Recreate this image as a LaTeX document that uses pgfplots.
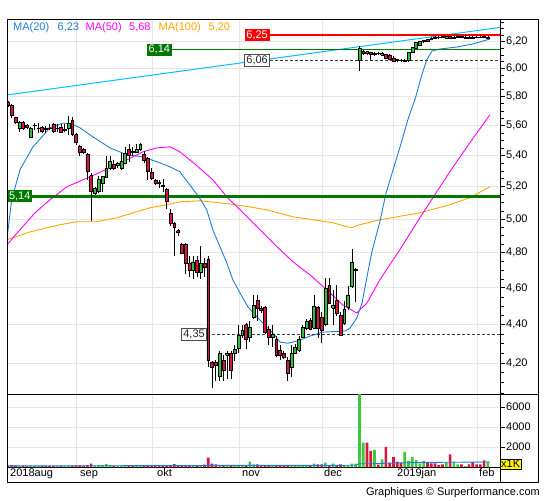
\documentclass[border=0pt]{standalone}
\usepackage{pgfplots}
\pgfplotsset{compat=1.18}
\usepackage{pgfplotstable}
\usepackage{fontspec}
\setmainfont{Liberation Sans}

\definecolor{cgreen}{RGB}{50,190,60}
\definecolor{cred}{RGB}{220,20,60}
\definecolor{vgreen}{RGB}{60,200,60}
\definecolor{vred}{RGB}{220,20,60}
\definecolor{ma20}{RGB}{30,125,220}
\definecolor{ma50}{RGB}{255,0,255}
\definecolor{ma100}{RGB}{255,165,0}
\definecolor{trend}{RGB}{0,190,255}
\definecolor{dgreen}{RGB}{0,120,0}
\definecolor{gridc}{RGB}{230,230,230}

% d = trading day index, O H L C = price, V = volume (units)
\pgfplotstableread{
d O H L C V
0 5.76 5.77 5.73 5.74 150
1 5.74 5.75 5.65 5.67 180
2 5.66 5.66 5.61 5.62 160
3 5.58 5.63 5.56 5.62 120
4 5.62 5.63 5.57 5.58 140
5 5.60 5.61 5.58 5.59 100
6 5.52 5.59 5.52 5.58 130
7 5.60 5.62 5.57 5.605 100
8 5.58 5.62 5.55 5.585 120
9 5.59 5.60 5.55 5.56 110
10 5.58 5.60 5.55 5.575 100
11 5.585 5.61 5.57 5.58 90
12 5.61 5.62 5.55 5.565 120
13 5.58 5.61 5.56 5.585 100
14 5.59 5.61 5.55 5.555 110
15 5.57 5.61 5.56 5.575 90
16 5.58 5.665 5.54 5.615 130
17 5.64 5.66 5.53 5.54 150
18 5.54 5.55 5.47 5.485 160
19 5.46 5.47 5.40 5.42 170
20 5.44 5.45 5.41 5.42 110
21 5.41 5.42 5.24 5.30 200
22 5.27 5.29 4.99 5.17 330
23 5.16 5.20 5.15 5.19 150
24 5.17 5.27 5.16 5.25 180
25 5.225 5.27 5.17 5.265 160
26 5.26 5.40 5.26 5.32 300
27 5.32 5.40 5.31 5.365 200
28 5.345 5.37 5.31 5.32 120
29 5.335 5.36 5.32 5.35 100
30 5.32 5.415 5.31 5.365 150
31 5.35 5.46 5.345 5.415 160
32 5.44 5.475 5.36 5.40 140
33 5.43 5.46 5.40 5.42 110
34 5.42 5.475 5.42 5.44 120
35 5.44 5.48 5.43 5.475 130
36 5.41 5.43 5.355 5.37 150
37 5.38 5.39 5.24 5.30 180
38 5.29 5.32 5.24 5.255 140
39 5.24 5.25 5.21 5.225 110
40 5.23 5.24 5.19 5.22 100
41 5.21 5.25 5.17 5.20 120
42 5.185 5.19 5.06 5.11 180
43 5.035 5.06 4.96 4.975 200
44 4.975 4.98 4.78 4.95 280
45 4.93 4.94 4.90 4.92 150
46 4.85 4.86 4.79 4.80 180
47 4.85 4.86 4.68 4.74 200
48 4.74 4.78 4.66 4.70 150
49 4.70 4.78 4.65 4.745 160
50 4.755 4.78 4.66 4.69 180
51 4.69 4.84 4.65 4.74 170
52 4.74 4.77 4.66 4.715 250
53 4.76 4.78 4.18 4.215 930
54 4.205 4.21 4.075 4.18 330
55 4.205 4.215 4.11 4.19 270
56 4.135 4.26 4.11 4.25 200
57 4.215 4.24 4.11 4.165 100
58 4.24 4.26 4.12 4.25 100
59 4.25 4.26 4.12 4.165 110
60 4.25 4.29 4.21 4.27 120
61 4.275 4.40 4.25 4.345 130
62 4.345 4.40 4.33 4.37 140
63 4.40 4.41 4.27 4.32 150
64 4.335 4.42 4.31 4.385 530
65 4.44 4.56 4.43 4.505 270
66 4.53 4.56 4.42 4.49 270
67 4.49 4.50 4.46 4.475 150
68 4.495 4.50 4.35 4.36 120
69 4.375 4.39 4.29 4.335 100
70 4.335 4.40 4.28 4.35 110
71 4.32 4.34 4.23 4.24 120
72 4.265 4.29 4.215 4.24 100
73 4.25 4.26 4.22 4.23 90
74 4.215 4.23 4.11 4.15 130
75 4.18 4.29 4.13 4.25 120
76 4.25 4.30 4.245 4.28 110
77 4.265 4.34 4.255 4.32 120
78 4.335 4.40 4.33 4.385 100
79 4.38 4.43 4.37 4.42 110
80 4.425 4.435 4.37 4.375 120
81 4.38 4.56 4.375 4.50 330
82 4.495 4.50 4.33 4.38 270
83 4.44 4.47 4.305 4.37 270
84 4.40 4.655 4.395 4.60 430
85 4.615 4.655 4.51 4.515 100
86 4.49 4.59 4.40 4.505 330
87 4.53 4.615 4.445 4.46 100
88 4.45 4.47 4.34 4.345 270
89 4.405 4.53 4.40 4.485 200
90 4.495 4.61 4.48 4.56 200
91 4.61 4.82 4.60 4.745 330
92 4.70 4.71 4.52 4.705 330
93 6.06 6.165 5.98 6.15 7600
94 6.11 6.14 6.10 6.125 2430
95 6.125 6.13 6.10 6.115 2430
96 6.12 6.125 6.06 6.105 1600
97 6.105 6.12 6.09 6.115 1700
98 6.115 6.12 6.10 6.11 250
99 6.10 6.12 6.09 6.11 770
100 6.105 6.11 6.07 6.075 2000
101 6.10 6.105 6.06 6.07 430
102 6.08 6.09 6.05 6.055 1000
103 6.07 6.075 6.05 6.06 530
104 6.065 6.07 6.05 6.06 430
105 6.055 6.07 6.05 6.065 1500
106 6.06 6.12 6.05 6.12 600
107 6.12 6.16 6.115 6.155 1000
108 6.15 6.20 6.145 6.195 700
109 6.175 6.205 6.17 6.20 370
110 6.20 6.215 6.19 6.21 600
111 6.215 6.22 6.20 6.205 500
112 6.225 6.235 6.21 6.22 370
113 6.235 6.24 6.22 6.225 370
114 6.235 6.245 6.22 6.23 200
115 6.24 6.245 6.225 6.23 270
116 6.225 6.245 6.22 6.24 500
117 6.24 6.245 6.22 6.225 1270
118 6.225 6.24 6.22 6.235 530
119 6.23 6.245 6.225 6.24 270
120 6.24 6.245 6.225 6.23 270
121 6.225 6.24 6.22 6.235 100
122 6.235 6.24 6.22 6.225 270
123 6.235 6.24 6.22 6.225 500
124 6.235 6.24 6.225 6.23 270
125 6.235 6.24 6.225 6.23 270
126 6.24 6.245 6.225 6.23 670
127 6.225 6.24 6.22 6.235 530
}\ohlc

\begin{document}
\begin{tikzpicture}[x=1pt,y=1pt,font=\fontsize{11}{13}\selectfont]
\path[use as bounding box] (0,0) rectangle (545,500);

% ---------------- price panel ----------------
\begin{axis}[
  at={(7pt,105pt)}, anchor=south west,
  scale only axis, width=493pt, height=375pt,
  xmin=-0.26, xmax=130.2,
  ymode=log, ymin=4.04, ymax=6.365,
  ytick={4.2,4.4,4.6,4.8,5,5.2,5.4,5.6,5.8,6,6.2},
  yticklabels={{4,20},{4,40},{4,60},{4,80},{5,00},{5,20},{5,40},{5,60},{5,80},{6,00},{6,20}},
  minor ytick={4.05,4.1,4.15,4.25,4.3,4.35,4.45,4.5,4.55,4.65,4.7,4.75,4.85,4.9,4.95,5.05,5.1,5.15,5.25,5.3,5.35,5.45,5.5,5.55,5.65,5.7,5.75,5.85,5.9,5.95,6.05,6.1,6.15,6.25,6.3,6.35},
  ytick pos=right, yticklabel pos=right, tick align=outside,
  major tick length=5pt, minor tick length=3.5pt,
  xtick={18.2,38.3,61.3,83.3,101.9,124.1}, xticklabels={},
  xtick style={draw=none},
  ytick style={black,line width=0.8pt},
  xmajorgrids, ymajorgrids, grid style={gridc,line width=0.8pt},
  axis line style={black,line width=1pt},
  yticklabel style={font=\fontsize{11}{13}\selectfont,anchor=west,inner sep=1pt},
]
% trend line
\addplot[trend,line width=1pt,forget plot] coordinates {(-0.26,5.812) (130.2,6.308)};
% moving averages
\addplot[ma100,line width=0.9pt,forget plot] coordinates {
(-0.3,4.876) (5.82,4.923) (13.8,4.966) (18.25,4.984) (23.5,4.984) (28.8,5.008) (33.1,5.038) (37.6,5.069) (42.1,5.088) (45.5,5.106) (50.8,5.112) (56.1,5.100) (62.2,5.081) (68.5,5.057) (75.4,5.014) (80.7,4.996) (86.0,4.978) (89.7,4.954) (91.0,4.948) (93.1,4.966) (98.4,4.996) (109.0,5.038) (116.9,5.088) (122.2,5.131) (127.5,5.200)};
\addplot[ma50,line width=0.9pt,forget plot] coordinates {
(-0.3,4.846) (3.17,4.936) (7.14,5.038) (11.1,5.118) (15.6,5.200) (21.7,5.263) (27.0,5.321) (31.5,5.373) (35.7,5.425) (39.4,5.451) (42.9,5.458) (45.5,5.425) (49.7,5.340) (54.2,5.244) (57.9,5.137) (61.4,5.057) (66.7,4.936) (71.2,4.835) (75.4,4.748) (79.9,4.673) (84.4,4.589) (88.6,4.506) (92.3,4.462) (95.0,4.517) (98.4,4.645) (101.9,4.759) (103.7,4.818) (109.0,5.008) (116.9,5.295) (122.2,5.484) (127.5,5.673)};
\addplot[ma20,line width=0.9pt,forget plot] coordinates {
(-0.3,4.876) (0.98,5.118) (3.17,5.308) (6.61,5.458) (11.1,5.585) (14.55,5.618) (16.9,5.612) (19.05,5.585) (22.5,5.524) (26.98,5.451) (31.5,5.405) (35.7,5.392) (39.4,5.360) (42.9,5.327) (45.5,5.295) (48.1,5.212) (50.5,5.137) (52.6,5.057) (54.2,4.936) (56.1,4.835) (57.9,4.742) (59.5,4.645) (61.4,4.572) (63.5,4.495) (65.9,4.441) (68.5,4.387) (70.6,4.344) (72.0,4.307) (74.1,4.302) (76.5,4.313) (79.9,4.339) (83.3,4.360) (89.2,4.366) (90.5,4.381) (92.3,4.435) (93.7,4.517) (95.0,4.662) (96.3,4.806) (98.4,4.984) (100.0,5.156) (101.9,5.308) (104.0,5.478) (105.8,5.639) (107.9,5.798) (109.5,5.955) (110.8,6.064) (112.2,6.130) (114.3,6.145) (118.8,6.160) (123.0,6.183) (127.5,6.220)};
% horizontal levels
\addplot[red,line width=2pt,forget plot] coordinates {(69.3,6.25) (131,6.25)};
\addplot[dgreen,line width=1.3pt,forget plot] coordinates {(43.4,6.14) (131,6.14)};
\addplot[black!75,line width=0.8pt,dash pattern=on 3pt off 2pt,forget plot] coordinates {(69.3,6.06) (131,6.06)};
\addplot[dgreen,line width=2.5pt,forget plot] coordinates {(-1,5.14) (131,5.14)};
\addplot[black!75,line width=0.8pt,dash pattern=on 3pt off 2pt,forget plot] coordinates {(52.6,4.35) (131,4.35)};
% candlesticks
\pgfplotstablegetrowsof{\ohlc}
\pgfmathtruncatemacro{\lastrow}{\pgfplotsretval-1}
\pgfplotsforeachungrouped \i in {0,...,\lastrow}{%
  \pgfplotstablegetelem{\i}{d}\of\ohlc \let\cd\pgfplotsretval
  \pgfplotstablegetelem{\i}{O}\of\ohlc \let\co\pgfplotsretval
  \pgfplotstablegetelem{\i}{H}\of\ohlc \let\ch\pgfplotsretval
  \pgfplotstablegetelem{\i}{L}\of\ohlc \let\cl\pgfplotsretval
  \pgfplotstablegetelem{\i}{C}\of\ohlc \let\cc\pgfplotsretval
  \pgfmathsetmacro{\xl}{\cd-0.38}%
  \pgfmathsetmacro{\xr}{\cd+0.38}%
  \pgfmathtruncatemacro{\up}{\cc>=\co}%
  \ifnum\up=1 \def\cfill{cgreen}\else\def\cfill{cred}\fi
  \edef\temp{%
    \noexpand\addplot[black,line width=0.7pt,forget plot] coordinates {(\cd,\cl) (\cd,\ch)};
    \noexpand\addplot[fill=\cfill,draw=black,line width=0.5pt,forget plot] coordinates {(\xl,\co) (\xr,\co) (\xr,\cc) (\xl,\cc) (\xl,\co)};
  }%
  \temp
}
% level labels
\node[fill=red,text=white,inner xsep=1.8pt,inner ysep=1.5pt,anchor=east] at (axis cs:69.3,6.25) {6,25};
\node[fill=dgreen,text=white,inner xsep=1.8pt,inner ysep=1.5pt,anchor=east] at (axis cs:43.4,6.14) {6,14};
\node[fill=white,draw=black!70,text=black!85,inner xsep=1.8pt,inner ysep=1.5pt,anchor=east] at (axis cs:69.3,6.06) {6,06};
\node[fill=dgreen,text=white,inner xsep=1.8pt,inner ysep=1.5pt,anchor=west] at (axis cs:-0.26,5.14) {5,14};
\node[fill=white,draw=black!70,text=black!85,inner xsep=1.8pt,inner ysep=1.5pt,anchor=east] at (axis cs:52.6,4.35) {4,35};
\end{axis}

% ---------------- volume panel ----------------
\begin{axis}[
  at={(7pt,33pt)}, anchor=south west,
  scale only axis, width=493pt, height=72pt,
  xmin=-0.26, xmax=130.2, ymin=0, ymax=7200,
  ytick={2000,4000,6000}, yticklabels={2000,4000,6000},
  scaled y ticks=false,
  ytick pos=right, yticklabel pos=right, tick align=outside,
  major tick length=5pt,
  xtick={18.2,38.3,61.3,83.3,101.9,124.1}, xticklabels={},
  xtick style={draw=none},
  ytick style={black,line width=0.8pt},
  xmajorgrids, ymajorgrids, grid style={gridc,line width=0.8pt},
  axis line style={black,line width=1pt},
  yticklabel style={font=\fontsize{11}{13}\selectfont,anchor=west,inner sep=1pt},
]
\addplot[ybar,bar width=0.7,bar shift=0pt,fill=vgreen,draw=none,forget plot]
  table[x=d,y expr={\thisrow{C}>=\thisrow{O} ? \thisrow{V} : 0}] {\ohlc};
\addplot[ybar,bar width=0.7,bar shift=0pt,fill=vred,draw=none,forget plot]
  table[x=d,y expr={\thisrow{C}>=\thisrow{O} ? 0 : \thisrow{V}}] {\ohlc};
\addplot[ma20,line width=0.9pt,forget plot] coordinates {
(-0.3,110) (30,130) (52,140) (53,155) (70,160) (83,160) (92,175) (93,320) (97,330) (100,370) (105,420) (110,460) (120,480) (127.5,500)};
\end{axis}

% ---------------- frame and texts ----------------
\draw[black,line width=1pt] (7,18) rectangle (538,480);
\draw[black,line width=1pt] (500,18) -- (500,33);
\draw[black,line width=1pt] (500,105) -- (538,105);

\node[anchor=base west,text=ma20,inner sep=0pt] at (13,469.5) {MA(20)};
\node[anchor=base west,text=ma20,inner sep=0pt] at (57.5,469.5) {6,23};
\node[anchor=base west,text=ma50,inner sep=0pt] at (85.5,469.5) {MA(50)};
\node[anchor=base west,text=ma50,inner sep=0pt] at (129,469.5) {5,68};
\node[anchor=base west,text=ma100,inner sep=0pt] at (158.5,469.5) {MA(100)};
\node[anchor=base west,text=ma100,inner sep=0pt] at (208.5,469.5) {5,20};

\node[fill=yellow,draw=black,inner xsep=1pt,inner ysep=1pt,anchor=south west] at (500,31) {x1K};

\node[anchor=base west,inner sep=0pt] at (10,23.5) {2018aug};
\node[anchor=base west,inner sep=0pt] at (80,23.5) {sep};
\node[anchor=base west,inner sep=0pt] at (157,23.5) {okt};
\node[anchor=base west,inner sep=0pt] at (242,23.5) {nov};
\node[anchor=base west,inner sep=0pt] at (324,23.5) {dec};
\node[anchor=base west,inner sep=0pt] at (397,23.5) {2019jan};
\node[anchor=base west,inner sep=0pt] at (479,23.5) {feb};

\node[anchor=base east,inner sep=0pt] at (540,5) {Graphiques \textcopyright\ Surperformance.com};
\end{tikzpicture}
\end{document}
